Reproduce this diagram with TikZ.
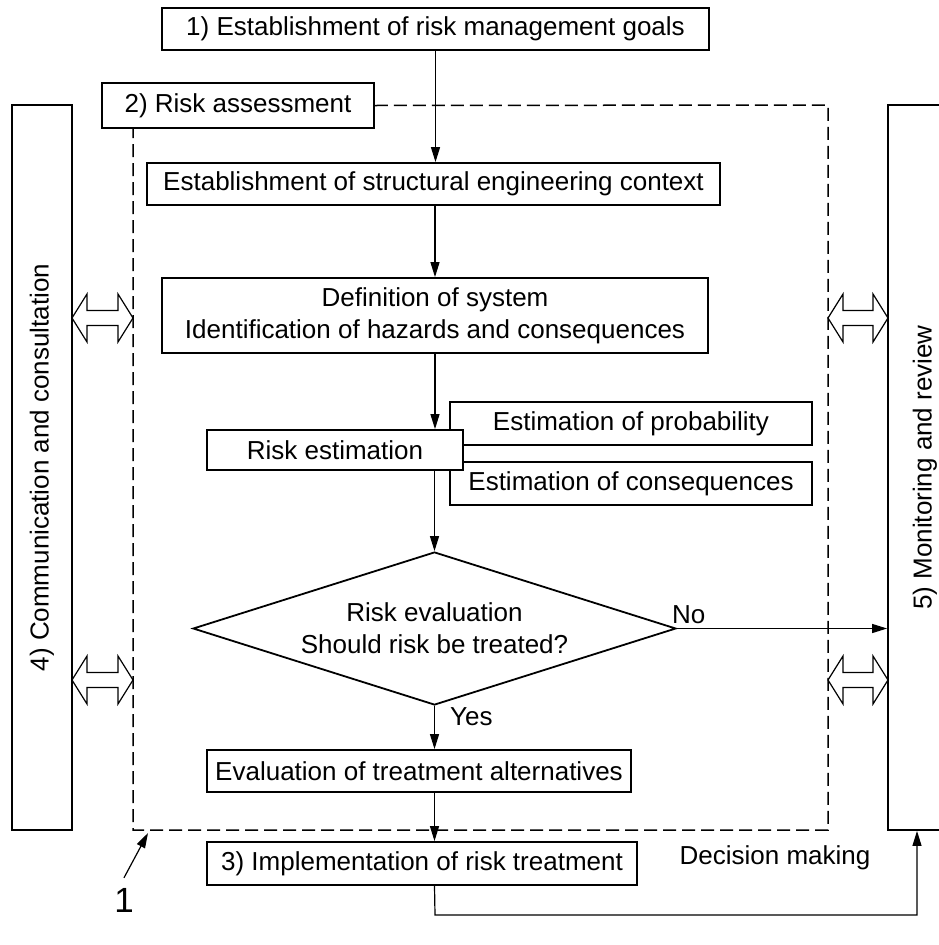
\documentclass[tikz,border=0pt]{standalone}
\usepackage{fontspec}
\setmainfont{Liberation Sans}
\usetikzlibrary{shapes.geometric,arrows.meta}
\tikzset{
  box/.style={draw, line width=1.8pt, fill=white, inner sep=0pt, align=center, font=\fontsize{26}{32}\selectfont},
  arr/.style={line width=1.2pt, -{Triangle[length=15pt,width=9pt]}},
  ln/.style={line width=1.2pt},
  dsh/.style={line width=1.5pt, dash pattern=on 13pt off 6pt},
  lbl/.style={inner sep=0pt, font=\fontsize{26}{32}\selectfont},
  hollow/.style={draw, line width=1.2pt, fill=white}
}
\begin{document}
\begin{tikzpicture}[x=1pt,y=-1pt]
\clip (0,0) rectangle (939,945);
\fill[white] (0,0) rectangle (939,945);
% dashed risk assessment region
\coordinate (dtr) at (828,105);
\coordinate (dbr) at (828,830);
\coordinate (dbl) at (133,830);
\coordinate (dtl) at (133,128);
% side boxes
\node[box, minimum width=60pt, minimum height=725pt] (lbox) at (42,467.5) {};
\node[lbl, rotate=90] at (lbox.center) {4) Communication and consultation};
\node[box, minimum width=74pt, minimum height=725pt] (rbox) at (925,467.5) {};
\node[lbl, rotate=90] at (rbox.center) {5) Monitoring and review};
% main boxes
\node[box, minimum width=547pt, minimum height=42pt] (goals) at (435.5,29) {1) Establishment of risk management goals};
\node[box, minimum width=272pt, minimum height=45pt] (assess) at (238,105.5) {2) Risk assessment};
\draw[dsh] (assess.east) -- (dtr) -- (dbr) -- (dbl) -- (dtl);
\node[box, minimum width=573pt, minimum height=42pt] (context) at (433.5,184) {Establishment of structural engineering context};
\node[box, minimum width=546pt, minimum height=75pt] (defn) at (435,315.5) {Definition of system\\Identification of hazards and consequences};
\node[box, minimum width=362pt, minimum height=43pt] (prob) at (631,423.5) {Estimation of probability};
\node[box, minimum width=362pt, minimum height=43pt] (cons) at (631,483.5) {Estimation of consequences};
\node[box, minimum width=256pt, minimum height=40pt] (riskest) at (335,450) {Risk estimation};
\node[box, diamond, aspect=3.16, minimum width=483pt, minimum height=153pt] (eval) at (434.5,628.5) {Risk evaluation\\Should risk be treated?};
\node[box, minimum width=424pt, minimum height=42pt] (alt) at (419,771) {Evaluation of treatment alternatives};
\node[box, minimum width=430pt, minimum height=43pt] (impl) at (422,863.5) {3) Implementation of risk treatment};
% connectors
\draw[arr] (goals.south) -- (goals.south |- context.north);
\draw[arr] (context.south -| defn.north) -- (defn.north);
\draw[arr] (defn.south) -- (defn.south |- riskest.north);
\draw[arr] (eval.north |- riskest.south) -- (eval.north);
\draw[arr] (eval.south) -- (eval.south |- alt.north);
\draw[arr] (eval.south |- alt.south) -- (eval.south |- impl.north);
\draw[arr] (eval.east) -- (eval.east -| rbox.west);
\coordinate (fb1) at (435,915);
\coordinate (fb2) at (917,915);
\draw[arr] (eval.south |- impl.south) -- (fb1) -- (fb2) -- (fb2 |- rbox.south);
% labels
\node[lbl, anchor=south west] at (672,624) {No};
\node[lbl, anchor=west] at (450,717) {Yes};
\node[lbl] (dm) at (775,858) {Decision making};
\node[inner sep=0pt, font=\fontsize{35}{40}\selectfont] (one) at (124,900) {1};
\coordinate (onetip) at (148,833);
\draw[line width=1.2pt, -{Triangle[length=15pt,width=9pt]}] (one.north) ++(0,-10) -- (onetip);
% hollow double arrows
\foreach \yy in {318,680} {
  \draw[hollow] (72,\yy) -- (87,\yy-24) -- (87,\yy-7.5) -- (118,\yy-7.5) -- (118,\yy-24) -- (133,\yy)
     -- (118,\yy+24) -- (118,\yy+7.5) -- (87,\yy+7.5) -- (87,\yy+24) -- cycle;
  \draw[hollow] (828,\yy) -- (843,\yy-24) -- (843,\yy-7.5) -- (873,\yy-7.5) -- (873,\yy-24) -- (888,\yy)
     -- (873,\yy+24) -- (873,\yy+7.5) -- (843,\yy+7.5) -- (843,\yy+24) -- cycle;
}
\end{tikzpicture}
\end{document}
